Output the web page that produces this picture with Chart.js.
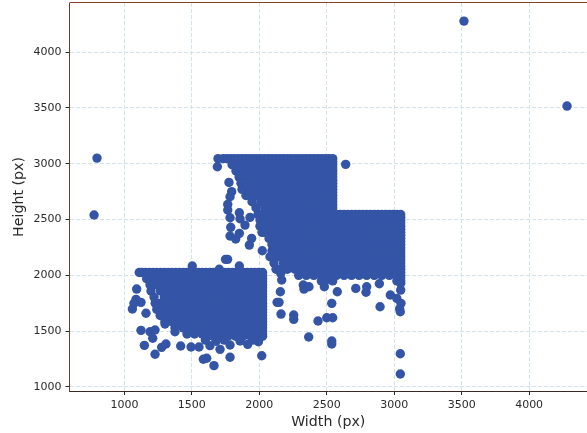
<!DOCTYPE html>
<html><head><meta charset="utf-8">
<style>html,body{margin:0;padding:0;background:#fff}canvas{display:block;filter:blur(0.45px)}</style>
<script src="https://cdn.jsdelivr.net/npm/chart.js@4"></script>
</head><body><canvas id="c" width="587" height="433"></canvas>
<script>
const xTickValues=[1000,1500,2000,2500,3000,3500,4000];
const yTickValues=[1000,1500,2000,2500,3000,3500,4000];
const xLabel="Width (px)";
const yLabel="Height (px)";
// dense cluster, lower left: [height, [widths]]
const lowerCluster=[
[2025,[1110,1128,1156,1184,1212,1240,1268,1296,1324,1352,1380,1408,1436,1464,1492,1520,1548,1576,1604,1632,1660,1688,1716,1744,1772,1800,1828,1856,1884,1912,1940,1968,1996,2024]],
[1970,[1165,1212,1268,1324,1380,1436,1492,1548,1604,1660,1716,1772,1828,1884,1940,1996,2024]],
[1915,[1190,1240,1296,1352,1408,1464,1520,1576,1632,1688,1744,1800,1856,1912,1968,2024]],
[1860,[1197,1268,1324,1380,1436,1492,1548,1604,1660,1716,1772,1828,1884,1940,1996,2024]],
[1805,[1220,1296,1352,1408,1464,1520,1576,1632,1688,1744,1800,1856,1912,1968,2024]],
[1750,[1228,1268,1324,1380,1436,1492,1548,1604,1660,1716,1772,1828,1884,1940,1996,2024]],
[1695,[1240,1296,1352,1408,1464,1520,1576,1632,1688,1744,1800,1856,1912,1968,2024]],
[1640,[1265,1324,1380,1436,1492,1548,1604,1660,1716,1772,1828,1884,1940,1996,2024]],
[1585,[1300,1352,1408,1464,1520,1576,1632,1688,1744,1800,1856,1912,1968,2024]],
[1530,[1375,1436,1492,1548,1604,1660,1716,1772,1828,1884,1940,1996,2024]],
[1475,[1464,1520,1576,1632,1688,1744,1800,1856,1912,1968,2024]],
[1455,[1600,1656,1712,1768,1824,1880,1936,1992,2024]]
];
// dense cluster, upper right: [height, [widths]]
const upperCluster=[
[3045,[1694,1732,1760,1788,1816,1844,1872,1900,1928,1956,1984,2012,2040,2068,2096,2124,2152,2180,2208,2236,2264,2292,2320,2348,2376,2404,2432,2460,2488,2516,2544]],
[2990,[1798,1844,1900,1956,2012,2068,2124,2180,2236,2292,2348,2404,2460,2516,2544]],
[2935,[1827,1872,1928,1984,2040,2096,2152,2208,2264,2320,2376,2432,2488,2544]],
[2880,[1850,1900,1956,2012,2068,2124,2180,2236,2292,2348,2404,2460,2516,2544]],
[2825,[1864,1928,1984,2040,2096,2152,2208,2264,2320,2376,2432,2488,2544]],
[2770,[1872,1900,1956,2012,2068,2124,2180,2236,2292,2348,2404,2460,2516,2544]],
[2715,[1901,1928,1984,2040,2096,2152,2208,2264,2320,2376,2432,2488,2544]],
[2660,[1946,2012,2068,2124,2180,2236,2292,2348,2404,2460,2516,2544]],
[2605,[1975,2040,2096,2152,2208,2264,2320,2376,2432,2488,2544]],
[2545,[1990,2012,2068,2124,2180,2236,2292,2348,2404,2460,2516,2572,2600,2628,2656,2684,2712,2740,2768,2796,2824,2852,2880,2908,2936,2964,2992,3020,3048]],
[2495,[2005,2040,2096,2152,2208,2264,2320,2376,2432,2488,2544,2600,2656,2712,2768,2824,2880,2936,2992,3048]],
[2440,[2005,2068,2124,2180,2236,2292,2348,2404,2460,2516,2572,2628,2684,2740,2796,2852,2908,2964,3020,3048]],
[2385,[2020,2040,2096,2152,2208,2264,2320,2376,2432,2488,2544,2600,2656,2712,2768,2824,2880,2936,2992,3048]],
[2330,[2072,2124,2180,2236,2292,2348,2404,2460,2516,2572,2628,2684,2740,2796,2852,2908,2964,3020,3048]],
[2275,[2094,2152,2208,2264,2320,2376,2432,2488,2544,2600,2656,2712,2768,2824,2880,2936,2992,3048]],
[2220,[2094,2124,2180,2236,2292,2348,2404,2460,2516,2572,2628,2684,2740,2796,2852,2908,2964,3020,3048]],
[2165,[2094,2152,2208,2264,2320,2376,2432,2488,2544,2600,2656,2712,2768,2824,2880,2936,2992,3048]],
[2110,[2109,2180,2236,2292,2348,2404,2460,2516,2572,2628,2684,2740,2796,2852,2908,2964,3020,3048]],
[2055,[2124,2152,2208,2264,2320,2376,2432,2488,2544,2600,2656,2712,2768,2824,2880,2936,2992,3048]],
[2000,[2292,2348,2404,2460,2516,2572,2628,2684,2740,2796,2852,2908,2964,3020,3048]],
[1950,[2460,2488,2544,3020,3048]]
];
// points along the straight right-hand limits: [width, [heights]]
const rightLimits=[
[2544,[3018,2962,2908,2852,2798,2742,2688,2632,2575]],
[3048,[2520,2468,2412,2358,2302,2248,2192,2138,2082,2028,1975]],
[2024,[1998,1942,1888,1832,1778,1722,1668,1612,1558,1502]]
];
// isolated points: [width, height]
const outliers=[
[3517,4277],[4281,3516],[797,3050],[775,2540],[2640,2994],
[1689,2972],[1775,2832],[1795,2749],[1783,2704],[1766,2635],[1766,2585],[1783,2516],[1788,2430],[1783,2352],[1825,2325],[1852,2376],[1852,2560],[1857,2507],[1894,2450],[1931,2519],[1943,2331],[1926,2271],[2022,2220],[2079,2166],[1750,2143],[1765,2143],[1503,2083],[1703,2054],[1852,2083],
[1091,1877],[1086,1785],[1123,1758],[1059,1698],[1071,1749],[1160,1660],[1123,1507],[1190,1495],[1227,1510],[1210,1436],[1148,1373],[1227,1293],[1276,1355],[1308,1385],[1417,1367],[1494,1358],[1553,1358],[1585,1248],[1610,1257],[1664,1191],[1634,1370],[1709,1337],[1783,1266],[1783,1376],[1857,1412],[1914,1382],[2018,1280],[1993,1405],[1375,1495],[1301,1564],[1600,1420],[1680,1410],[1740,1420],[1950,1420],
[2159,2018],[2166,1958],[2156,1853],[2132,1758],[2146,1758],[2161,1653],[2255,1645],[2255,1606],[2435,1591],[2500,1620],[2544,1620],[2537,1749],[2366,1448],[2537,1412],[2537,1385],[2578,1853],[2715,1883],[2791,1848],[2796,1898],[2890,1925],[2895,1719],[2971,1824],[3019,1794],[3050,1749],[3045,1674],[3040,1700],[3045,1298],[3045,1116],[2326,1913],[2331,1877],[2368,1898],[2482,1898],[3048,1868],[3048,1928]
];
const points=[];
[lowerCluster,upperCluster].forEach(g=>g.forEach(r=>r[1].forEach(x=>points.push({x:x,y:r[0]}))));
rightLimits.forEach(r=>r[1].forEach(y=>points.push({x:r[0],y:y})));
outliers.forEach(p=>points.push({x:p[0],y:p[1]}));

const frame={id:'frame',afterDatasetsDraw(ch){const a=ch.chartArea,c=ch.ctx;c.save();c.strokeStyle='#8a3f2c';c.lineWidth=1;c.beginPath();c.moveTo(a.left,a.top-.5);c.lineTo(a.right,a.top-.5);c.stroke();c.restore();}};
const gridOpts={color:'#d3e3ea',lineWidth:1,tickColor:'#222',tickLength:4,drawTicks:true};
new Chart(document.getElementById('c'),{
 type:'scatter',
 data:{datasets:[{data:points,backgroundColor:'#3454A6',borderColor:'#3454A6',borderWidth:0,pointRadius:4.7,pointHoverRadius:4.7}]},
 options:{responsive:false,animation:false,
  layout:{autoPadding:false,padding:{top:3,right:0,left:0,bottom:0}},
  plugins:{legend:{display:false},tooltip:{enabled:false}},
  scales:{
   x:{type:'linear',min:593,max:4429,
    afterBuildTicks:s=>{s.ticks=xTickValues.map(v=>({value:v}));},
    afterFit:s=>{s.height=42;s.paddingLeft=0;s.paddingRight=0;},
    grid:gridOpts,
    border:{display:true,color:'#3a2a25',width:1,dash:[4,2]},
    ticks:{color:'#2a2a2a',font:{family:'DejaVu Sans',size:11},padding:4,maxRotation:0,autoSkip:false,callback:v=>String(v)},
    title:{display:true,text:xLabel,color:'#2a2a2a',font:{family:'DejaVu Sans',size:14.2},padding:{top:0,bottom:2}}
   },
   y:{type:'linear',min:964,max:4439,
    afterBuildTicks:s=>{s.ticks=yTickValues.map(v=>({value:v}));},
    afterFit:s=>{s.width=69.5;s.paddingTop=0;s.paddingBottom=0;},
    grid:gridOpts,
    border:{display:true,color:'#6e3a2e',width:1,dash:[4,2]},
    ticks:{color:'#2a2a2a',font:{family:'DejaVu Sans',size:11},padding:4,autoSkip:false,callback:v=>String(v)},
    title:{display:true,text:yLabel,color:'#2a2a2a',font:{family:'DejaVu Sans',size:14.2},padding:{top:11,bottom:0}}
   }
  }
 },
 plugins:[frame]
});
</script></body></html>
